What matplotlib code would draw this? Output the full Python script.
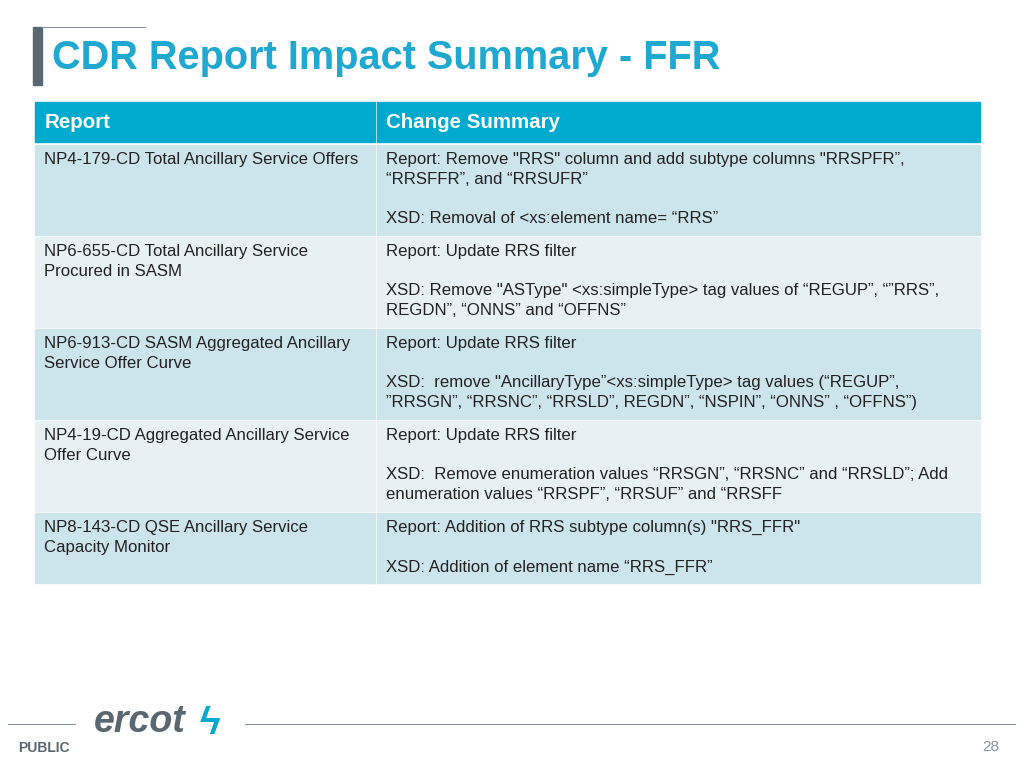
import matplotlib.pyplot as plt
from matplotlib.patches import Rectangle

title = "CDR Report Impact Summary - FFR"
headers = ["Report", "Change Summary"]
reports = [
    "NP4-179-CD Total Ancillary Service Offers",
    "NP6-655-CD Total Ancillary Service\nProcured in SASM",
    "NP6-913-CD SASM Aggregated Ancillary\nService Offer Curve",
    "NP4-19-CD Aggregated Ancillary Service\nOffer Curve",
    "NP8-143-CD QSE Ancillary Service\nCapacity Monitor",
]
summaries = [
    "Report: Remove \"RRS\" column and add subtype columns \"RRSPFR\u201d,\n\u201cRRSFFR\u201d, and \u201cRRSUFR\u201d\n\nXSD: Removal of <xs:element name= \u201cRRS\u201d",
    "Report: Update RRS filter\n\nXSD: Remove \"ASType\" <xs:simpleType> tag values of \u201cREGUP\u201d, \u201c\u201dRRS\u201d,\nREGDN\u201d, \u201cONNS\u201d and \u201cOFFNS\u201d",
    "Report: Update RRS filter\n\nXSD:  remove \"AncillaryType\u201d<xs:simpleType> tag values (\u201cREGUP\u201d,\n\u201dRRSGN\u201d, \u201cRRSNC\u201d, \u201cRRSLD\u201d, REGDN\u201d, \u201cNSPIN\u201d, \u201cONNS\u201d , \u201cOFFNS\u201d)",
    "Report: Update RRS filter\n\nXSD:  Remove enumeration values \u201cRRSGN\u201d, \u201cRRSNC\u201d and \u201cRRSLD\u201d; Add\nenumeration values \u201cRRSPF\u201d, \u201cRRSUF\u201d and \u201cRRSFF",
    "Report: Addition of RRS subtype column(s) \"RRS_FFR\"\n\nXSD: Addition of element name \u201cRRS_FFR\u201d",
]
row_tops = [145, 237, 329, 421, 513]
row_bottoms = [235, 327, 419, 511, 583]

plt.rcParams['font.family'] = 'Liberation Sans'
fig = plt.figure(figsize=(10.24, 7.68), dpi=100)
ax = fig.add_axes([0, 0, 1, 1])
ax.set_xlim(0, 1024)
ax.set_ylim(768, 0)
ax.axis('off')

teal = '#00A9CE'
# title decoration
ax.add_patch(Rectangle((33, 27), 9, 58, color='#5B6770'))
ax.plot([42, 145], [27, 27], color='#8A939A', lw=0.8)
ax.text(52, 58, title, fontsize=28.6, fontweight='bold', color='#1FA8D0', va='center')

# header
x0, xm, x1 = 35, 376, 980
ax.add_patch(Rectangle((x0, 102), xm - x0 - 1, 40, color=teal))
ax.add_patch(Rectangle((xm + 1, 102), x1 - xm - 1, 40, color=teal))
ax.text(45, 123, headers[0], fontsize=14.8, fontweight='bold', color='white', va='center')
ax.text(386, 123, headers[1], fontsize=14.8, fontweight='bold', color='white', va='center')

for i, (rep, summ) in enumerate(zip(reports, summaries)):
    top, bot = row_tops[i], row_bottoms[i]
    c = '#CCE4EC' if i % 2 == 0 else '#E7F1F4'
    ax.add_patch(Rectangle((x0, top), xm - x0 - 1, bot - top, color=c))
    ax.add_patch(Rectangle((xm + 1, top), x1 - xm - 1, bot - top, color=c))
    ax.text(44, top + 7, rep, fontsize=12.1, color='#222222', va='top', linespacing=1.39)
    ax.text(386, top + 7, summ, fontsize=12.1, color='#222222', va='top', linespacing=1.39)

# footer
ax.plot([8, 75], [724, 724], color='#8A939A', lw=0.8)
ax.plot([245, 1015], [724, 724], color='#8A939A', lw=0.8)
ax.text(18, 748, "PUBLIC", fontsize=10, fontweight='bold', color='#5B6770', va='center')
ax.text(999, 747, "28", fontsize=11, color='#8A939A', va='center', ha='right')
ax.text(94, 722, "ercot", fontsize=27, fontweight='bold', fontstyle='italic',
        color='#5B6770', va='center')
ax.text(210, 724, "\u03DF", fontsize=28, fontweight='bold', color=teal, va='center', ha='center')

fig.savefig('out.png', dpi=100)
